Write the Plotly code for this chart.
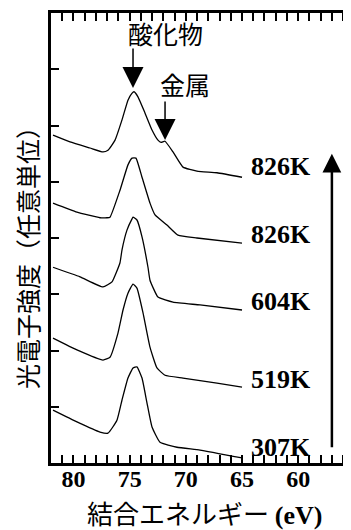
import plotly.graph_objects as go

# ---- data (binding energy in eV, intensity in arbitrary offset units) ----
temps = ["826K", "826K", "604K", "519K", "307K"]

ev_a = [81.82, 80.31, 78.53, 77.37, 76.93, 76.30, 75.68, 75.15, 74.80, 74.61, 74.26, 73.63, 73.01, 72.48, 72.20, 71.85, 71.14, 70.25, 69.01, 67.23, 65.00]
in_a = [5.83, 5.71, 5.60, 5.53, 5.56, 5.74, 6.10, 6.45, 6.57, 6.60, 6.51, 6.22, 5.92, 5.74, 5.70, 5.72, 5.53, 5.26, 5.19, 5.16, 5.08]

ev_b = [81.82, 79.69, 77.64, 77.02, 76.75, 75.86, 75.15, 74.79, 74.44, 73.90, 73.19, 72.74, 71.68, 70.70, 69.01, 65.00]
in_b = [4.62, 4.46, 4.36, 4.36, 4.37, 4.85, 5.30, 5.42, 5.42, 5.08, 4.62, 4.41, 4.23, 4.05, 4.00, 3.91]

ev_c = [81.82, 79.42, 77.37, 76.57, 75.86, 75.68, 75.24, 74.79, 74.70, 74.35, 73.90, 73.37, 73.19, 72.48, 71.14, 68.74, 65.00]
in_c = [3.48, 3.31, 3.13, 3.22, 3.56, 3.79, 4.14, 4.34, 4.37, 4.32, 4.02, 3.48, 3.25, 2.95, 2.86, 2.81, 2.72]

ev_d = [81.82, 79.69, 77.37, 76.75, 76.04, 75.59, 75.15, 74.70, 74.35, 73.81, 73.19, 72.57, 71.85, 70.25, 67.23, 65.00]
in_d = [2.22, 2.01, 1.83, 1.88, 2.31, 2.72, 3.02, 3.18, 3.11, 2.67, 2.06, 1.69, 1.56, 1.51, 1.42, 1.35]

ev_e = [81.82, 79.69, 77.64, 76.93, 76.13, 75.68, 75.15, 74.70, 74.35, 73.90, 73.46, 73.01, 72.30, 70.79, 68.74, 65.00]
in_e = [0.94, 0.73, 0.55, 0.53, 0.76, 1.12, 1.51, 1.69, 1.71, 1.51, 1.07, 0.64, 0.37, 0.28, 0.23, 0.09]

x_ticks = [80, 75, 70, 65, 60]
oxide_peak = (74.70, 6.667)
metal_peak = (71.85, 5.742)

series = [(ev_a, in_a), (ev_b, in_b), (ev_c, in_c), (ev_d, in_d), (ev_e, in_e)]

fig = go.Figure()
for ev, inten in series:
    fig.add_trace(go.Scatter(x=ev, y=inten, mode="lines",
                             line=dict(color="black", width=1.3, shape="spline", smoothing=0.4),
                             showlegend=False, hoverinfo="skip"))
# dummy trace for the right-hand tick axis
fig.add_trace(go.Scatter(x=[70], y=[4], yaxis="y2", mode="markers",
                         marker=dict(opacity=0), showlegend=False, hoverinfo="skip"))

serif = "Liberation Serif"
cjk = "Noto Sans CJK JP"

annotations = []
label_y = [5.28, 4.07, 2.88, 1.48, 0.28]
for t, ly in zip(temps, label_y):
    annotations.append(dict(x=64.4, y=ly, xref="x", yref="y", text=t, showarrow=False,
                            xanchor="left", yanchor="middle",
                            font=dict(family=serif, size=26, color="black", weight="bold")))

annotations.append(dict(x=71.85, y=7.64, xref="x", yref="y", text="酸化物", showarrow=False,
                        font=dict(family=cjk, size=25, color="black")))
annotations.append(dict(x=oxide_peak[0], y=oxide_peak[1], xref="x", yref="y", text="",
                        showarrow=True, ax=0, ay=-41, arrowhead=2, arrowsize=2.8,
                        arrowwidth=1.5, arrowcolor="black", standoff=0))
annotations.append(dict(x=70.07, y=6.74, xref="x", yref="y", text="金属", showarrow=False,
                        font=dict(family=cjk, size=25, color="black")))
annotations.append(dict(x=metal_peak[0], y=metal_peak[1], xref="x", yref="y", text="",
                        showarrow=True, ax=0, ay=-40, arrowhead=2, arrowsize=2.8,
                        arrowwidth=1.5, arrowcolor="black", standoff=0))
# temperature sequence arrow
annotations.append(dict(x=57.0, y=5.50, xref="x", yref="y", text="",
                        showarrow=True, ax=0, ay=295, arrowhead=2, arrowsize=1.5,
                        arrowwidth=2.5, arrowcolor="black", standoff=0))
# axis titles
annotations.append(dict(x=0.51, y=-0.111, xref="paper", yref="paper",
                        text='結合エネルギー <span style="font-family:Liberation Serif;font-weight:bold">(eV)</span>',
                        showarrow=False, xanchor="center", yanchor="middle",
                        font=dict(family=cjk, size=26, color="black")))
annotations.append(dict(x=-0.08, y=0.469, xref="paper", yref="paper",
                        text="光電子強度（任意単位）", textangle=-90,
                        showarrow=False, xanchor="center", yanchor="middle",
                        font=dict(family=cjk, size=25, color="black")))

fig.update_layout(
    width=343, height=522,
    margin=dict(l=43, r=0, t=5, b=67),
    paper_bgcolor="white", plot_bgcolor="white",
    showlegend=False,
    xaxis=dict(range=[82, 55.3], tickmode="linear", tick0=0, dtick=5,
               ticks="inside", ticklen=8, tickwidth=2, tickcolor="black",
               minor=dict(dtick=1, tick0=0, ticks="inside", ticklen=4, tickwidth=1.5,
                          tickcolor="black", showgrid=False),
               showline=True, linewidth=2.5, linecolor="black", mirror="allticks",
               showgrid=False, zeroline=False, ticklabelstandoff=-8,
               tickfont=dict(family=serif, size=24, color="black", weight="bold")),
    yaxis=dict(range=[0, 8], tickmode="linear", tick0=0, dtick=1,
               ticks="inside", ticklen=8, tickwidth=2, tickcolor="black",
               showticklabels=False, showline=True, linewidth=3, linecolor="black",
               showgrid=False, zeroline=False),
    yaxis2=dict(range=[0, 8], overlaying="y", side="right", tickmode="linear", tick0=0, dtick=1,
                ticks="inside", ticklen=8, tickwidth=2, tickcolor="black",
                showticklabels=False, showline=False, showgrid=False, zeroline=False),
    annotations=annotations,
)

fig.write_html("out.html")
